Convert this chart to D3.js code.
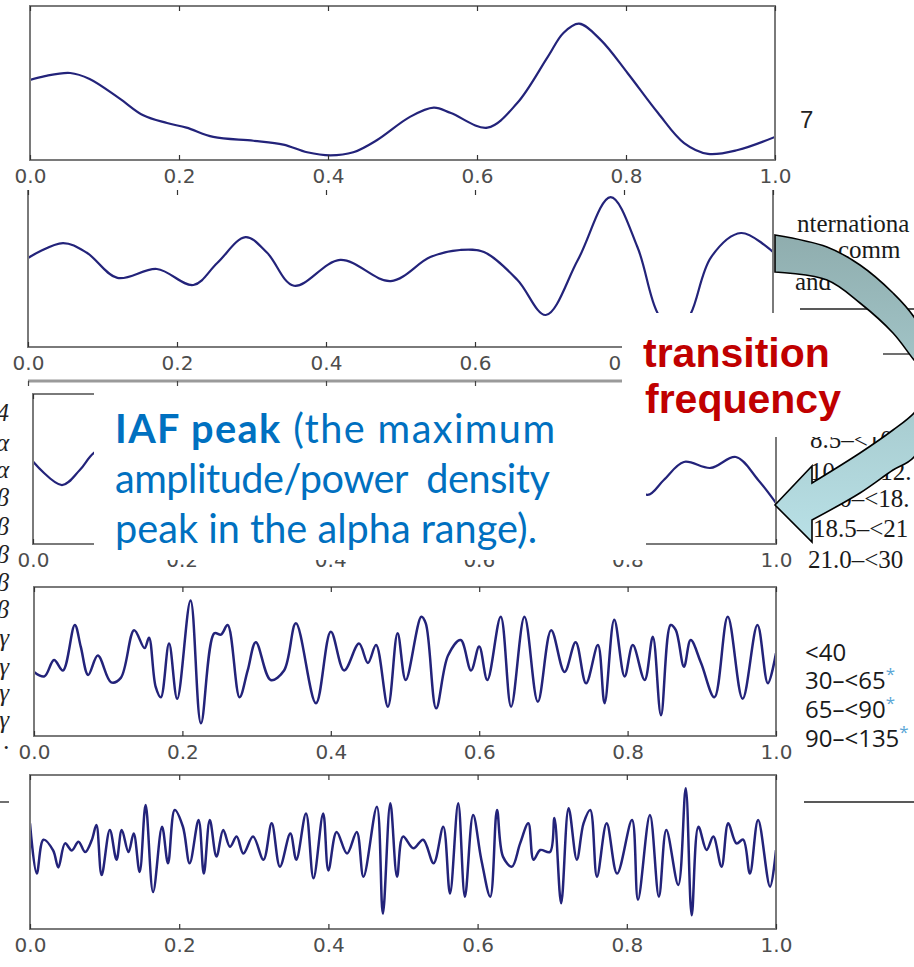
<!DOCTYPE html>
<html><head><meta charset="utf-8">
<script src="https://cdn.jsdelivr.net/npm/d3@7"></script>
<style>body{margin:0;background:#fff}svg{display:block}</style>
</head><body>
<svg id="c" width="914" height="967"></svg>
<script>
// ---------------- data ----------------
const tickValues = [0, 0.2, 0.4, 0.6, 0.8, 1.0];
const tickLabels = ["0.0", "0.2", "0.4", "0.6", "0.8", "1.0"];

const deltaWave = [[0,0.52],[0.02,0.545],[0.054,0.565],[0.08,0.526],[0.12,0.40],[0.152,0.29],[0.184,0.24],[0.21,0.21],[0.246,0.15],[0.30,0.125],[0.34,0.10],[0.372,0.05],[0.403,0.03],[0.434,0.05],[0.466,0.13],[0.51,0.28],[0.542,0.34],[0.565,0.305],[0.614,0.21],[0.654,0.37],[0.695,0.67],[0.716,0.825],[0.737,0.885],[0.766,0.78],[0.802,0.565],[0.843,0.305],[0.878,0.11],[0.91,0.04],[0.95,0.065],[1.0,0.15]];

const thetaWave = [[0,0.567],[0.047,0.662],[0.079,0.60],[0.12,0.44],[0.173,0.497],[0.222,0.395],[0.254,0.535],[0.292,0.70],[0.321,0.60],[0.357,0.39],[0.419,0.555],[0.487,0.42],[0.54,0.573],[0.58,0.618],[0.612,0.605],[0.657,0.427],[0.695,0.204],[0.738,0.554],[0.782,0.955],[0.818,0.637],[0.845,0.217],[0.87,0.076],[0.89,0.217],[0.917,0.573],[0.957,0.726],[1.0,0.605]];

const alphaWave = [[0,0.55],[0.039,0.393],[0.063,0.493],[0.082,0.607],[0.12,0.7],[0.17,0.4],[0.22,0.65],[0.28,0.35],[0.33,0.7],[0.39,0.4],[0.45,0.65],[0.5,0.35],[0.56,0.7],[0.62,0.4],[0.68,0.65],[0.74,0.35],[0.79,0.45],[0.827,0.327],[0.849,0.427],[0.876,0.547],[0.912,0.507],[0.946,0.58],[0.976,0.427],[1.0,0.273]];

const betaWave = [[0,0.43],[0.014,0.40],[0.027,0.51],[0.039,0.44],[0.055,0.745],[0.063,0.60],[0.073,0.41],[0.086,0.54],[0.104,0.36],[0.117,0.39],[0.135,0.71],[0.149,0.59],[0.155,0.66],[0.164,0.33],[0.171,0.26],[0.182,0.62],[0.193,0.25],[0.211,0.91],[0.225,0.085],[0.243,0.69],[0.252,0.68],[0.261,0.745],[0.277,0.26],[0.288,0.44],[0.299,0.63],[0.319,0.376],[0.337,0.44],[0.353,0.756],[0.380,0.22],[0.40,0.70],[0.418,0.44],[0.438,0.62],[0.45,0.49],[0.461,0.61],[0.477,0.197],[0.49,0.69],[0.501,0.376],[0.522,0.80],[0.528,0.756],[0.542,0.186],[0.558,0.54],[0.575,0.644],[0.589,0.44],[0.60,0.60],[0.611,0.376],[0.629,0.80],[0.643,0.197],[0.661,0.80],[0.679,0.23],[0.697,0.71],[0.715,0.43],[0.73,0.63],[0.744,0.354],[0.76,0.61],[0.769,0.22],[0.782,0.78],[0.796,0.40],[0.807,0.61],[0.823,0.376],[0.834,0.666],[0.845,0.14],[0.858,0.745],[0.865,0.71],[0.876,0.465],[0.885,0.644],[0.899,0.49],[0.917,0.26],[0.935,0.80],[0.955,0.25],[0.975,0.745],[0.989,0.354],[1.0,0.555]];

const gammaWave = [[0,0.686],[0.009,0.36],[0.018,0.58],[0.031,0.51],[0.038,0.40],[0.047,0.556],[0.056,0.51],[0.065,0.567],[0.074,0.50],[0.083,0.58],[0.089,0.675],[0.096,0.35],[0.107,0.643],[0.116,0.45],[0.123,0.643],[0.132,0.50],[0.139,0.62],[0.147,0.37],[0.155,0.805],[0.165,0.24],[0.177,0.664],[0.185,0.427],[0.194,0.773],[0.205,0.664],[0.214,0.427],[0.226,0.708],[0.233,0.36],[0.241,0.708],[0.25,0.47],[0.259,0.643],[0.268,0.534],[0.277,0.60],[0.286,0.49],[0.299,0.60],[0.313,0.45],[0.324,0.686],[0.335,0.405],[0.349,0.62],[0.357,0.45],[0.37,0.75],[0.38,0.33],[0.393,0.75],[0.40,0.38],[0.411,0.63],[0.425,0.49],[0.438,0.63],[0.447,0.34],[0.465,0.794],[0.473,0.10],[0.483,0.816],[0.492,0.34],[0.50,0.60],[0.514,0.524],[0.527,0.58],[0.541,0.427],[0.554,0.664],[0.563,0.23],[0.574,0.816],[0.583,0.21],[0.594,0.74],[0.605,0.45],[0.617,0.21],[0.626,0.773],[0.634,0.47],[0.646,0.405],[0.657,0.556],[0.668,0.686],[0.675,0.45],[0.684,0.513],[0.697,0.50],[0.703,0.72],[0.712,0.167],[0.722,0.784],[0.733,0.45],[0.742,0.686],[0.751,0.773],[0.76,0.34],[0.773,0.686],[0.787,0.36],[0.807,0.708],[0.815,0.19],[0.831,0.74],[0.843,0.21],[0.853,0.643],[0.869,0.286],[0.879,0.914],[0.887,0.09],[0.896,0.664],[0.907,0.513],[0.916,0.60],[0.927,0.405],[0.936,0.686],[0.947,0.556],[0.956,0.58],[0.965,0.36],[0.976,0.708],[0.992,0.275],[1.0,0.513]];

const tableRowsTop = ["nternationa", "comm", "and"];
const tableRowsMid = ["8.5\u2013<10", "10.5\u2013<12.", "13.0\u2013<18.", "18.5\u2013<21", "21.0\u2013<30"];
const tableRowsLow = [["<40", ""], ["30\u2013<65", "*"], ["65\u2013<90", "*"], ["90\u2013<135", "*"]];
const edgeGlyphs = ["4","\u03b1","\u03b1","\u03b2","\u03b2","\u03b2","\u03b2","\u03b2","\u03b3","\u03b3","\u03b3","\u03b3","\u00b7"];
const iafLines = [["IAF peak", " (the maximum"], ["", "amplitude/power  density"], ["", "peak in the alpha range)."]];
const transitionLines = ["transition", "frequency"];
const panelNote = "7";

// ---------------- layout ----------------
const svg = d3.select("#c");
const defs = svg.append("defs");
const panels = [
  {data: deltaWave, x0: 30, x1: 775, top: 6,   bottom: 160, topLine: true},
  {data: thetaWave, x0: 28, x1: 773, top: 190, bottom: 347, topLine: false},
  {data: alphaWave, x0: 33, x1: 776, top: 394, bottom: 544, topLine: true},
  {data: betaWave,  x0: 34, x1: 776, top: 587, bottom: 736, topLine: true},
  {data: gammaWave, x0: 30, x1: 776, top: 775, bottom: 929, topLine: true}
];
const frameColor = "#7a7a7a";
const lineColor = "#23237a";

panels.forEach((p, i) => {
  const x = d3.scaleLinear().domain([0, 1]).range([p.x0, p.x1]);
  const y = d3.scaleLinear().domain([0, 1]).range([p.bottom, p.top]);
  const g = svg.append("g");
  defs.append("clipPath").attr("id", "clip" + i)
    .append("rect").attr("x", p.x0).attr("y", p.top)
    .attr("width", p.x1 - p.x0).attr("height", p.bottom - p.top);

  const line = d3.line().x(d => x(d[0])).y(d => y(d[1]))
    .curve(d3.curveCatmullRom.alpha(0.5));
  g.append("path").attr("d", line(p.data))
    .attr("clip-path", `url(#clip${i})`)
    .attr("fill", "none").attr("stroke", lineColor)
    .attr("stroke-width", i >= 3 ? 2.5 : 2.2).attr("stroke-linejoin", "round");

  const fr = p.topLine
    ? `M${p.x0},${p.top}H${p.x1}V${p.bottom}H${p.x0}Z`
    : `M${p.x0},${p.top}V${p.bottom}H${p.x1}V${p.top}`;
  g.append("path").attr("d", fr).attr("fill", "none")
    .attr("stroke", frameColor).attr("stroke-width", 2);

  const bottomAxis = d3.axisBottom(x).tickValues(tickValues)
    .tickFormat((d, k) => tickLabels[k]).tickSizeInner(-5).tickSizeOuter(0).tickPadding(9);
  const topAxis = d3.axisTop(x).tickValues(tickValues)
    .tickFormat("").tickSizeInner(-5).tickSizeOuter(0);
  const ab = g.append("g").attr("transform", `translate(0,${p.bottom})`).call(bottomAxis);
  const at = g.append("g").attr("transform", `translate(0,${p.top})`).call(topAxis);
  [ab, at].forEach(a => {
    a.select(".domain").remove();
    a.selectAll(".tick line").attr("stroke", "#333").attr("stroke-width", 1.2);
  });
  ab.selectAll(".tick text").attr("font-family", "DejaVu Sans")
    .attr("font-size", 20).attr("fill", "#4d4d4d");
});

// clipped axis strip between theta and alpha panels
{
  const x = d3.scaleLinear().domain([0, 1]).range([28, 773]);
  svg.append("line").attr("x1", 28).attr("x2", 773).attr("y1", 381).attr("y2", 381)
    .attr("stroke", "#9a9a9a").attr("stroke-width", 3);
  const a = svg.append("g").attr("transform", "translate(0,381)")
    .call(d3.axisBottom(x).tickValues(tickValues).tickFormat("").tickSizeInner(5).tickSizeOuter(0));
  a.select(".domain").remove();
  a.selectAll(".tick line").attr("stroke", "#444").attr("stroke-width", 1.2);
}

// ---------------- surrounding page text ----------------
svg.append("text").attr("x", 800).attr("y", 128).text(panelNote)
  .attr("font-family", "Liberation Sans").attr("font-size", 24).attr("fill", "#222");

const serif = {"font-family": "Liberation Serif", "font-size": 25, "fill": "#1a1a1a"};
const topRowPos = [[797, 232], [838, 258], [795, 290]];
tableRowsTop.forEach((t, k) => {
  const e = svg.append("text").attr("x", topRowPos[k][0]).attr("y", topRowPos[k][1]).text(t);
  Object.entries(serif).forEach(([a, v]) => e.attr(a, v));
});
svg.append("line").attr("x1", 800).attr("x2", 914).attr("y1", 309).attr("y2", 309).attr("stroke", "#222").attr("stroke-width", 1.3);
svg.append("line").attr("x1", 883).attr("x2", 914).attr("y1", 354).attr("y2", 354).attr("stroke", "#222").attr("stroke-width", 1.3);

const midPos = [[810, 448], [810, 480], [808, 507], [813, 537], [808, 568]];
tableRowsMid.forEach((t, k) => {
  const e = svg.append("text").attr("x", midPos[k][0]).attr("y", midPos[k][1]).text(t);
  Object.entries(serif).forEach(([a, v]) => e.attr(a, v));
});

const lowY = [661, 689, 718, 747];
tableRowsLow.forEach((r, k) => {
  const e = svg.append("text").attr("x", 805).attr("y", lowY[k])
    .attr("font-family", "Open Sans").attr("font-size", 24).attr("fill", "#1a1a1a");
  e.append("tspan").text(r[0]);
  if (r[1]) e.append("tspan").text(r[1]).attr("fill", "#5aa6d6")
    .attr("font-size", 17).attr("dy", -9);
});
svg.append("line").attr("x1", 804).attr("x2", 914).attr("y1", 802).attr("y2", 802).attr("stroke", "#222").attr("stroke-width", 1.3);

// clipped glyphs at the left edge
const edgeY = [421, 451, 478, 506, 535, 563, 591, 618, 646, 675, 701, 728, 756];
edgeGlyphs.forEach((c, k) => {
  svg.append("text").attr("x", 9).attr("y", edgeY[k]).attr("text-anchor", "end")
    .attr("font-family", "Liberation Serif").attr("font-style", "italic")
    .attr("font-size", 25).attr("fill", "#222").text(c);
});
svg.append("line").attr("x1", 0).attr("x2", 9).attr("y1", 802).attr("y2", 802).attr("stroke", "#222").attr("stroke-width", 1.3);

// ---------------- annotation boxes ----------------
svg.append("rect").attr("x", 94).attr("y", 392).attr("width", 552).attr("height", 168).attr("fill", "#fff");
svg.append("rect").attr("x", 622).attr("y", 313).attr("width", 258).attr("height", 124).attr("fill", "#fff");

const iafY = [443, 493, 543];
const iafWidths = [440, 435, 422];
const iafTexts = iafLines.map((ln, k) => {
  const t = svg.append("text").attr("x", 115).attr("y", iafY[k])
    .attr("font-family", "Lato").attr("font-size", 40).attr("fill", "#0070c0")
    .style("white-space", "pre");
  if (ln[0]) t.append("tspan").attr("font-weight", "bold").text(ln[0]);
  t.append("tspan").text(ln[1]);
  return t;
});
const natural = iafTexts[2].node().getComputedTextLength();
const fs = 40 * iafWidths[2] / natural;
iafTexts.forEach((t, k) => {
  t.attr("font-size", fs);
  t.attr("textLength", iafWidths[k]).attr("lengthAdjust", "spacing");
});

const trY = [367, 413];
const trX = [643, 645];
transitionLines.forEach((s, k) => {
  svg.append("text").attr("x", trX[k]).attr("y", trY[k]).text(s)
    .attr("font-family", "Liberation Sans").attr("font-weight", "bold")
    .attr("font-size", 41).attr("fill", "#c00000");
});

// ---------------- curved arrow ----------------
const grad = defs.append("linearGradient").attr("id", "arrowGrad")
  .attr("gradientUnits", "userSpaceOnUse").attr("x1", 0).attr("x2", 0).attr("y1", 235).attr("y2", 545);
grad.append("stop").attr("offset", 0).attr("stop-color", "#8fadae");
grad.append("stop").attr("offset", 0.45).attr("stop-color", "#a3c6c9");
grad.append("stop").attr("offset", 1).attr("stop-color", "#b9e1e7");

const outerEdge = [[775,235],[827,247],[860,265],[893,293],[914,317],[950,385],[914,457],[893,470],[860,493],[812,520]];
const innerEdge = [[812,483],[860,453],[893,430],[914,413],[935,385],[914,360],[893,333],[860,303],[827,280],[775,272]];
const head = [[812,542],[775,505],[812,466],[812,483]];
const cr = d3.line().curve(d3.curveCatmullRom.alpha(0.5));
const outerD = cr(outerEdge);
const innerD = cr(innerEdge).replace(/^M/, "L");
const headD = head.map(p => `L${p[0]},${p[1]}`).join("");
svg.append("path").attr("d", outerD + headD + innerD + "Z")
  .attr("fill", "url(#arrowGrad)").attr("stroke", "#000").attr("stroke-width", 1.6)
  .attr("stroke-linejoin", "miter");
</script>
</body></html>
